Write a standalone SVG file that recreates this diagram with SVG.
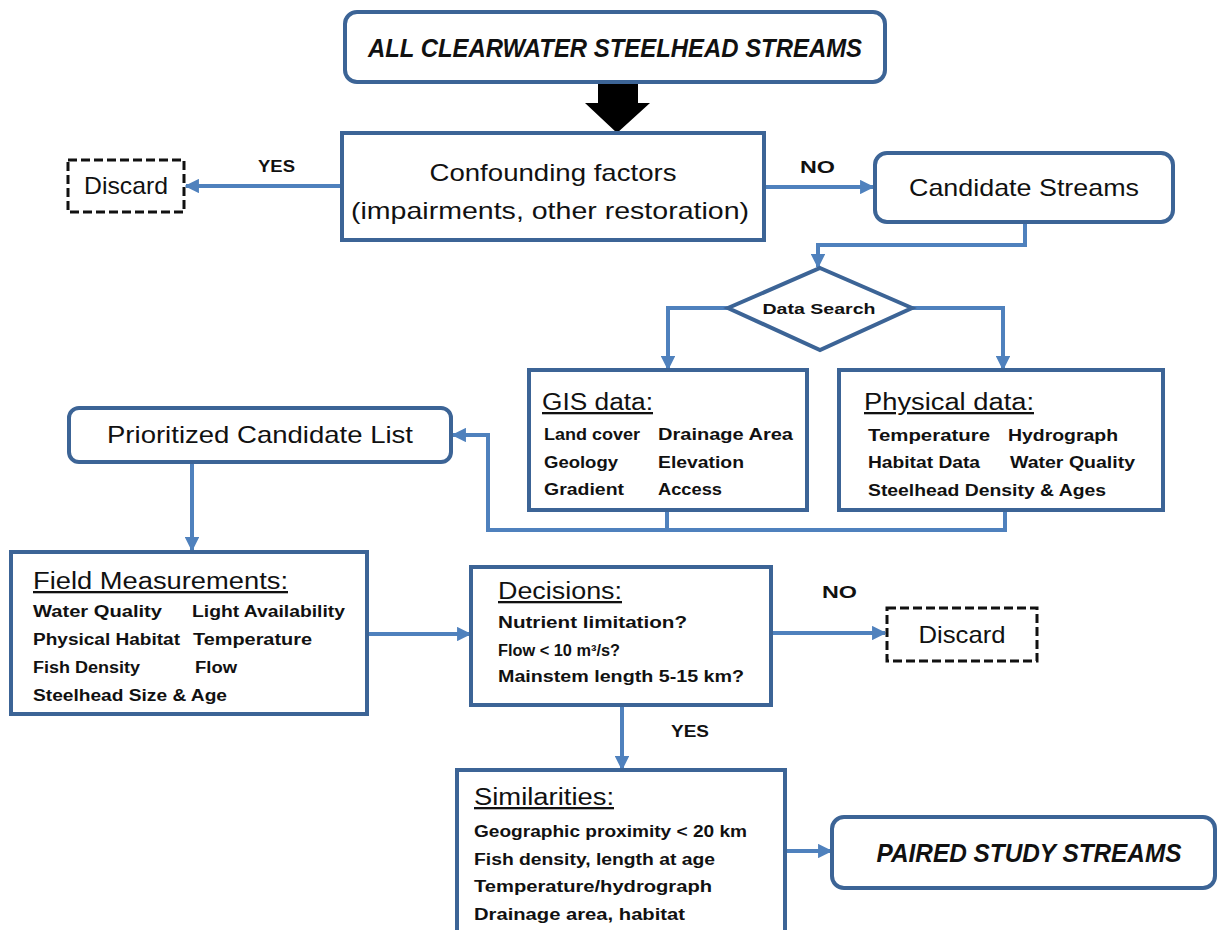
<svg xmlns="http://www.w3.org/2000/svg" width="1218" height="930" viewBox="0 0 1218 930">
<defs>
<marker id="ah" viewBox="0 0 10 10" refX="9" refY="5" markerWidth="3.6" markerHeight="3.6" orient="auto" markerUnits="strokeWidth">
<path d="M0,0 L10,5 L0,10 z" fill="#4f81bd"/>
</marker>
<style>
.box{fill:#fff;stroke:#3c6496;stroke-width:4}
.dash{fill:#fff;stroke:#111;stroke-width:3;stroke-dasharray:9 4}
.con{fill:none;stroke:#4f81bd;stroke-width:4}
text{font-family:"Liberation Sans",Arial,sans-serif;fill:#111}
.big{font-size:24px}
.title{font-size:26px;font-weight:bold;font-style:italic}
.lbl{font-size:17px;font-weight:bold}
.hd{font-size:23px;text-decoration:underline}
.it{font-size:16px;font-weight:bold}
</style>
</defs>
<g id="connectors">
<polygon points="598,82 638,82 638,103 650,103 617,133 585,103 598,103" fill="#000"/>
<line class="con" x1="342" y1="186" x2="186" y2="186" marker-end="url(#ah)"/>
<line class="con" x1="764" y1="187" x2="873" y2="187" marker-end="url(#ah)"/>
<polyline class="con" points="1025,222 1025,245 818,245 818,267" marker-end="url(#ah)"/>
<polyline class="con" points="728,308 668,308 668,369" marker-end="url(#ah)"/>
<polyline class="con" points="912,308 1003,308 1003,369" marker-end="url(#ah)"/>
<polyline class="con" points="667,510 667,530"/>
<polyline class="con" points="1005,510 1005,530 488,530 488,435 453,435" marker-end="url(#ah)"/>
<line class="con" x1="192" y1="462" x2="192" y2="550" marker-end="url(#ah)"/>
<line class="con" x1="367" y1="634" x2="470" y2="634" marker-end="url(#ah)"/>
<line class="con" x1="771" y1="633" x2="885" y2="633" marker-end="url(#ah)"/>
<line class="con" x1="622" y1="705" x2="622" y2="769" marker-end="url(#ah)"/>
<line class="con" x1="785" y1="851" x2="831" y2="851" marker-end="url(#ah)"/>
</g>
<g id="labels">
<text class="lbl" x="258" y="172" textLength="37" lengthAdjust="spacingAndGlyphs">YES</text>
<text class="lbl" x="800" y="173" textLength="35" lengthAdjust="spacingAndGlyphs">NO</text>
<text class="lbl" x="822" y="598" textLength="35" lengthAdjust="spacingAndGlyphs">NO</text>
<text class="lbl" x="671" y="737" textLength="38" lengthAdjust="spacingAndGlyphs">YES</text>
</g>
<g id="all-streams">
<rect class="box" x="345" y="12" width="540" height="70" rx="12"/>
<text class="title" x="615" y="57" text-anchor="middle" textLength="494" lengthAdjust="spacingAndGlyphs">ALL CLEARWATER STEELHEAD STREAMS</text>
</g>
<g id="confounding">
<rect class="box" x="342" y="133" width="422" height="107"/>
<text class="big" x="553" y="181" text-anchor="middle" textLength="247" lengthAdjust="spacingAndGlyphs">Confounding factors</text>
<text class="big" x="550" y="219" text-anchor="middle" textLength="398" lengthAdjust="spacingAndGlyphs">(impairments, other restoration)</text>
</g>
<g id="discard1">
<rect class="dash" x="68" y="160" width="116" height="52"/>
<text class="big" x="126" y="194" text-anchor="middle" textLength="84" lengthAdjust="spacingAndGlyphs">Discard</text>
</g>
<g id="candidate">
<rect class="box" x="875" y="153" width="298" height="69" rx="12"/>
<text class="big" x="1024" y="196" text-anchor="middle" textLength="230" lengthAdjust="spacingAndGlyphs">Candidate Streams</text>
</g>
<g id="data-search">
<polygon points="820,268 912,308 820,350 728,308" fill="#fff" stroke="#3c6496" stroke-width="4"/>
<text x="819" y="314" text-anchor="middle" font-size="15" font-weight="bold" textLength="113" lengthAdjust="spacingAndGlyphs">Data Search</text>
</g>
<g id="gis">
<rect class="box" x="529" y="370" width="278" height="140"/>
<text class="hd" x="542" y="410" textLength="111" lengthAdjust="spacingAndGlyphs">GIS data:</text>
<text class="it" x="544" y="440" textLength="96" lengthAdjust="spacingAndGlyphs">Land cover</text>
<text class="it" x="658" y="440" textLength="135" lengthAdjust="spacingAndGlyphs">Drainage Area</text>
<text class="it" x="544" y="468" textLength="74" lengthAdjust="spacingAndGlyphs">Geology</text>
<text class="it" x="658" y="468" textLength="86" lengthAdjust="spacingAndGlyphs">Elevation</text>
<text class="it" x="544" y="495" textLength="80" lengthAdjust="spacingAndGlyphs">Gradient</text>
<text class="it" x="658" y="495" textLength="64" lengthAdjust="spacingAndGlyphs">Access</text>
</g>
<g id="physical">
<rect class="box" x="839" y="370" width="324" height="140"/>
<text class="hd" x="864" y="410" textLength="170" lengthAdjust="spacingAndGlyphs">Physical data:</text>
<text class="it" x="868" y="441" textLength="122" lengthAdjust="spacingAndGlyphs">Temperature</text>
<text class="it" x="1008" y="441" textLength="110" lengthAdjust="spacingAndGlyphs">Hydrograph</text>
<text class="it" x="868" y="468" textLength="112" lengthAdjust="spacingAndGlyphs">Habitat Data</text>
<text class="it" x="1010" y="468" textLength="125" lengthAdjust="spacingAndGlyphs">Water Quality</text>
<text class="it" x="868" y="496" textLength="238" lengthAdjust="spacingAndGlyphs">Steelhead  Density &amp; Ages</text>
</g>
<g id="prioritized">
<rect class="box" x="69" y="408" width="382" height="54" rx="10"/>
<text class="big" x="260" y="443" text-anchor="middle" textLength="306" lengthAdjust="spacingAndGlyphs">Prioritized Candidate List</text>
</g>
<g id="field">
<rect class="box" x="11" y="552" width="356" height="162"/>
<text class="hd" x="33" y="589" textLength="255" lengthAdjust="spacingAndGlyphs">Field Measurements:</text>
<text class="it" x="33" y="617" textLength="129" lengthAdjust="spacingAndGlyphs">Water Quality</text>
<text class="it" x="192" y="617" textLength="153" lengthAdjust="spacingAndGlyphs">Light Availability</text>
<text class="it" x="33" y="645" textLength="147" lengthAdjust="spacingAndGlyphs">Physical Habitat</text>
<text class="it" x="193" y="645" textLength="119" lengthAdjust="spacingAndGlyphs">Temperature</text>
<text class="it" x="33" y="673" textLength="107" lengthAdjust="spacingAndGlyphs">Fish Density</text>
<text class="it" x="195" y="673" textLength="42" lengthAdjust="spacingAndGlyphs">Flow</text>
<text class="it" x="33" y="701" textLength="194" lengthAdjust="spacingAndGlyphs">Steelhead Size &amp; Age</text>
</g>
<g id="decisions">
<rect class="box" x="471" y="567" width="300" height="138"/>
<text class="hd" x="498" y="599" textLength="124" lengthAdjust="spacingAndGlyphs">Decisions:</text>
<text class="it" x="498" y="628" textLength="189" lengthAdjust="spacingAndGlyphs">Nutrient limitation?</text>
<text class="it" x="498" y="656" textLength="122" lengthAdjust="spacingAndGlyphs">Flow &lt; 10 m³/s?</text>
<text class="it" x="498" y="682" textLength="246" lengthAdjust="spacingAndGlyphs">Mainstem length 5-15 km?</text>
</g>
<g id="discard2">
<rect class="dash" x="887" y="608" width="150" height="53"/>
<text class="big" x="962" y="643" text-anchor="middle" textLength="87" lengthAdjust="spacingAndGlyphs">Discard</text>
</g>
<g id="similarities">
<rect class="box" x="457" y="770" width="328" height="175"/>
<text class="hd" x="474" y="805" textLength="140" lengthAdjust="spacingAndGlyphs">Similarities:</text>
<text class="it" x="474" y="837" textLength="273" lengthAdjust="spacingAndGlyphs">Geographic proximity &lt; 20 km</text>
<text class="it" x="474" y="865" textLength="241" lengthAdjust="spacingAndGlyphs">Fish density, length at age</text>
<text class="it" x="474" y="892" textLength="238" lengthAdjust="spacingAndGlyphs">Temperature/hydrograph</text>
<text class="it" x="474" y="920" textLength="211" lengthAdjust="spacingAndGlyphs">Drainage area, habitat</text>
</g>
<g id="paired">
<rect class="box" x="832" y="817" width="383" height="71" rx="12"/>
<text class="title" x="1029" y="862" text-anchor="middle" font-size="24" textLength="305" lengthAdjust="spacingAndGlyphs">PAIRED STUDY STREAMS</text>
</g>
</svg>
